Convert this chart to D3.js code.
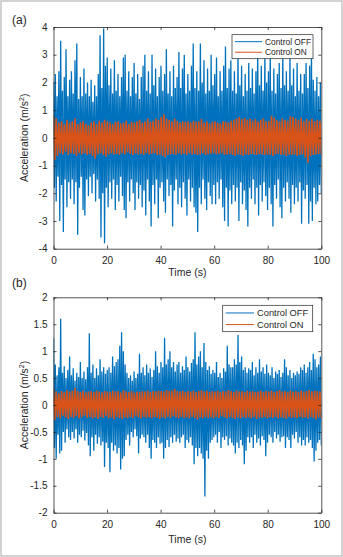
<!DOCTYPE html>
<html>
<head>
<meta charset="utf-8">
<script src="https://cdn.jsdelivr.net/npm/d3@7"></script>
<style>
body { margin: 0; background: #fff; }
text { font-family: "Liberation Sans", Arial, sans-serif; fill: #262626; }
</style>
</head>
<body>
<svg id="fig" width="343" height="557"></svg>
<script>
// ---- data (peak values, time runs 0..100 s) ----
var xTicks = [0, 20, 40, 60, 80, 100];
var yTicksA = [-4, -3, -2, -1, 0, 1, 2, 3, 4];
var yTicksB = [-2, -1.5, -1, -0.5, 0, 0.5, 1, 1.5, 2];
var seriesNames = ["Control OFF", "Control ON"];

// (a) control off: positive and negative peaks
var offA_hi = [2.0,2.3,1.5,2.4,3.5,1.7,2.2,3.2,1.5,2.1, 2.4,1.6,2.8,3.4,1.4,2.2,1.5,2.5,1.6,2.0,
  1.5,2.1,1.3,1.9,1.5,2.3,3.7,1.8,3.95,2.6, 2.9,1.9,2.5,1.6,2.8,1.7,2.3,1.5,2.2,2.9,
  3.0,1.7,2.4,1.5,2.2,2.7,1.6,2.3,1.4,2.2, 2.6,3.0,1.7,2.4,1.6,3.0,1.9,2.5,1.5,2.2,
  2.6,1.7,2.3,3.2,1.6,2.4,1.5,2.6,1.8,2.2, 3.1,1.8,2.5,3.0,1.6,2.3,1.7,2.6,3.4,1.8,
  2.4,1.7,3.4,2.0,2.8,1.6,2.5,1.7,3.0,1.9, 2.3,2.9,1.5,2.4,1.7,2.6,3.3,1.8,2.5,2.8,
  1.7,2.4,1.6,3.1,1.9,2.6,1.5,2.3,1.7,2.7, 1.8,2.5,1.6,2.4,3.3,1.9,2.6,1.7,3.0,2.0,
  2.4,3.1,1.7,2.5,1.6,2.3,2.7,1.8,3.1,1.9, 2.4,1.7,3.0,1.9,2.5,1.5,2.7,1.7,2.3,1.6,
  2.3,2.7,1.8,2.6,3.1,2.1,1.7,2.2,1.5,2.0];
var offA_lo = [-1.8,-2.3,-1.4,-3.0,-1.7,-3.4,-1.5,-2.5,-1.6,-2.2, -1.5,-2.4,-1.6,-3.5,-1.8,-1.4,-2.6,-2.8,-1.5,-2.1,
  -1.4,-2.0,-1.3,-2.3,-1.5,-2.2,-3.6,-2.0,-3.8,-1.8, -2.5,-1.6,-2.2,-1.5,-2.6,-1.7,-2.3,-1.4,-2.1,-2.6,
  -2.9,-1.6,-2.3,-1.5,-2.0,-2.6,-1.6,-2.2,-1.7,-2.5, -1.9,-2.8,-1.5,-2.3,-3.2,-1.7,-2.4,-1.5,-2.9,-1.8,
  -1.6,-2.3,-2.7,-1.5,-2.1,-1.7,-3.2,-1.9,-1.5,-2.4, -1.8,-2.5,-1.6,-2.2,-2.8,-1.5,-2.3,-1.8,-2.5,-2.7,
  -3.4,-1.8,-2.4,-1.5,-2.2,-2.6,-1.6,-2.1,-2.4,-1.7, -2.4,-1.6,-2.2,-1.5,-2.5,-3.0,-1.8,-3.2,-1.9,-2.4,
  -1.7,-2.3,-1.8,-3.0,-1.6,-2.4,-1.9,-2.6,-3.2,-1.8, -2.2,-1.5,-2.4,-1.8,-2.8,-1.7,-2.3,-1.6,-2.1,-2.6,
  -1.8,-2.4,-3.2,-1.7,-2.2,-1.5,-2.5,-2.9,-1.8,-2.3, -1.6,-2.2,-2.7,-1.7,-2.4,-1.8,-2.3,-1.6,-3.1,-1.9,
  -2.2,-1.7,-3.1,-2.3,-3.0,-1.8,-2.4,-2.3,-1.7,-2.0];

// (a) control on
var onA_hi = [0.8,0.7,0.55,0.6,0.5,0.65,0.55,0.6,0.7,0.5, 0.55,0.6,0.5,0.45,0.55,0.6,0.5,0.62,0.55,0.65,
  0.6,0.55,0.5,0.58,0.6,0.52,0.55,0.62,0.5,0.58, 0.55,0.6,0.65,0.55,0.6,0.7,0.58,0.62,0.7,0.65,
  0.75,0.85,0.7,0.65,0.6,0.7,0.62,0.55,0.6,0.58, 0.6,0.55,0.62,0.58,0.6,0.68,0.55,0.6,0.52,0.58,
  0.6,0.55,0.52,0.6,0.58,0.55,0.62,0.65,0.7,0.75, 0.68,0.72,0.65,0.7,0.62,0.68,0.6,0.65,0.7,0.6,
  0.62,0.8,0.72,0.65,0.6,0.7,0.65,0.62,0.78,0.75, 0.7,0.65,0.72,0.6,0.68,0.62,0.7,0.6,0.65,0.62];
var onA_lo = [-0.8,-0.65,-0.55,-0.6,-0.5,-0.62,-0.55,-0.58,-0.65,-0.55, -0.6,-0.55,-0.62,-0.58,-0.65,-0.75,-0.6,-0.55,-0.62,-0.68,
  -0.6,-0.55,-0.6,-0.58,-0.62,-0.55,-0.6,-0.52,-0.58,-0.62, -0.55,-0.6,-0.58,-0.62,-0.55,-0.6,-0.58,-0.55,-0.62,-0.6,
  -0.65,-0.7,-0.62,-0.6,-0.58,-0.62,-0.55,-0.6,-0.58,-0.62, -0.55,-0.6,-0.58,-0.62,-0.6,-0.55,-0.62,-0.6,-0.58,-0.55,
  -0.6,-0.58,-0.55,-0.62,-0.6,-0.58,-0.62,-0.65,-0.6,-0.62, -0.65,-0.6,-0.62,-0.58,-0.6,-0.62,-0.58,-0.6,-0.62,-0.6,
  -0.62,-0.65,-0.6,-0.58,-0.62,-0.6,-0.65,-0.6,-0.62,-0.6, -0.65,-0.62,-0.6,-0.7,-0.9,-0.65,-0.62,-0.6,-0.58,-0.6];

// (b) control off
var offB_hi = [1.24,0.75,0.55,0.7,1.6,0.6,0.72,0.5,0.65,0.9, 0.55,0.68,0.45,0.6,0.52,0.8,0.5,0.62,0.48,0.7,
  1.33,0.6,0.75,0.5,0.68,0.55,0.85,0.62,0.7,0.58, 0.65,0.7,0.6,0.9,0.72,0.8,0.85,1.1,1.35,1.0,
  0.75,0.6,0.5,0.55,0.45,0.62,0.5,0.58,0.95,0.6, 0.7,0.55,0.75,0.6,0.68,0.52,0.65,1.0,0.72,0.6,
  0.8,0.7,1.25,0.75,0.85,1.0,0.7,0.8,0.62,0.75, 0.8,0.6,0.72,0.65,0.9,0.7,0.62,0.78,0.85,1.35,
  0.75,0.9,1.0,0.7,1.15,0.8,0.65,0.72,0.58,0.65, 0.6,0.8,0.52,0.6,0.5,0.68,0.62,1.1,0.75,0.7,
  0.7,0.85,0.75,1.3,0.8,0.9,0.65,0.7,0.6,0.68, 0.65,0.8,0.55,0.7,0.6,0.85,0.62,0.7,0.58,0.75,
  0.6,0.55,0.7,0.5,0.62,0.58,0.65,0.52,0.6,0.85, 0.7,0.55,0.65,0.5,0.6,0.55,0.62,0.58,0.7,0.65,
  0.75,0.6,0.7,0.8,0.65,0.95,0.85,0.7,0.75,0.9];
var offB_lo = [-0.8,-1.0,-0.55,-0.9,-0.85,-0.5,-0.7,-0.45,-0.6,-0.65, -0.5,-0.62,-0.45,-0.7,-0.55,-0.6,-0.48,-0.66,-0.52,-0.75,
  -0.95,-0.6,-0.85,-0.55,-0.72,-0.6,-0.75,-0.68,-1.15,-0.7, -0.8,-1.25,-0.7,-0.85,-0.75,-0.9,-0.8,-1.2,-1.0,-0.95,
  -0.65,-0.55,-0.75,-0.5,-0.6,-0.45,-0.58,-0.9,-0.62,-0.55, -0.6,-0.7,-0.55,-0.8,-1.0,-0.65,-0.7,-0.8,-0.6,-0.72,
  -0.7,-1.0,-0.8,-0.65,-0.78,-0.6,-0.7,-0.55,-0.68,-0.62, -0.7,-0.6,-0.55,-0.8,-0.65,-0.7,-0.6,-0.75,-1.1,-0.8,
  -0.95,-0.8,-0.9,-1.0,-1.7,-0.85,-1.0,-0.7,-0.65,-0.6, -0.55,-0.7,-0.5,-0.8,-0.6,-0.65,-0.58,-0.75,-0.62,-0.7,
  -0.75,-0.9,-0.7,-0.8,-0.65,-0.75,-1.1,-0.85,-0.6,-0.7, -0.6,-0.8,-0.55,-0.7,-0.62,-0.75,-0.58,-0.65,-0.95,-0.7,
  -0.55,-0.6,-0.7,-0.5,-0.62,-0.55,-0.68,-0.6,-0.58,-0.8, -0.6,-0.65,-0.8,-0.55,-0.62,-0.5,-0.7,-0.6,-0.75,-0.65,
  -0.75,-0.6,-0.7,-0.65,-0.8,-1.05,-0.85,-0.7,-0.65,-0.75];

// (b) control on
var onB_hi = [0.3,0.25,0.22,0.26,0.24,0.28,0.25,0.27,0.32,0.26, 0.24,0.27,0.23,0.25,0.26,0.24,0.27,0.25,0.23,0.26,
  0.25,0.24,0.27,0.25,0.26,0.23,0.28,0.25,0.24,0.26, 0.23,0.25,0.24,0.26,0.25,0.27,0.24,0.26,0.25,0.27,
  0.26,0.25,0.28,0.26,0.27,0.3,0.26,0.25,0.27,0.24, 0.26,0.25,0.27,0.24,0.26,0.28,0.25,0.27,0.24,0.26,
  0.25,0.27,0.24,0.26,0.25,0.28,0.26,0.24,0.27,0.25, 0.26,0.24,0.27,0.25,0.26,0.24,0.25,0.27,0.24,0.26,
  0.25,0.27,0.24,0.26,0.28,0.25,0.26,0.24,0.27,0.25, 0.26,0.24,0.27,0.25,0.26,0.28,0.25,0.27,0.26,0.25];
var onB_lo = [-0.28,-0.22,-0.25,-0.2,-0.23,-0.26,-0.22,-0.24,-0.21,-0.25, -0.23,-0.2,-0.24,-0.22,-0.25,-0.23,-0.26,-0.22,-0.24,-0.21,
  -0.25,-0.23,-0.27,-0.22,-0.24,-0.26,-0.23,-0.25,-0.22,-0.24, -0.21,-0.23,-0.25,-0.22,-0.24,-0.23,-0.25,-0.22,-0.24,-0.26,
  -0.23,-0.25,-0.22,-0.24,-0.21,-0.23,-0.25,-0.22,-0.24,-0.23, -0.25,-0.22,-0.24,-0.27,-0.23,-0.25,-0.22,-0.24,-0.23,-0.25,
  -0.22,-0.24,-0.21,-0.23,-0.25,-0.22,-0.24,-0.26,-0.23,-0.25, -0.22,-0.24,-0.23,-0.25,-0.22,-0.26,-0.23,-0.24,-0.22,-0.25,
  -0.23,-0.24,-0.22,-0.25,-0.23,-0.24,-0.26,-0.22,-0.24,-0.23, -0.25,-0.22,-0.24,-0.23,-0.25,-0.22,-0.24,-0.27,-0.23,-0.24];

var colors = ["#0072BD", "#D95319"];
var axisColor = "#262626";

var svg = d3.select("#fig");

// outer frame of the figure
svg.append("rect")
  .attr("x", 1).attr("y", 1)
  .attr("width", 341).attr("height", 555)
  .attr("fill", "#fff")
  .attr("stroke", "#c4c4c4")
  .attr("stroke-width", 1.5);

// peaks -> one zigzag trace (alternating high/low samples)
function zigzag(hi, lo) {
  var pts = [];
  hi.forEach(function(v, i) {
    pts.push(v);
    pts.push(lo[i]);
  });
  var step = 100 / (pts.length - 1);
  return pts.map(function(v, k) { return [k * step, v]; });
}

function drawPanel(p) {
  var x = d3.scaleLinear().domain([0, 100]).range([p.left, p.right]);
  var y = d3.scaleLinear().domain(p.yDomain).range([p.bottom, p.top]);
  var g = svg.append("g");

  g.append("clipPath").attr("id", "clip" + p.id)
    .append("rect")
    .attr("x", p.left).attr("y", p.top)
    .attr("width", p.right - p.left).attr("height", p.bottom - p.top);

  var line = d3.line()
    .x(function(d) { return x(d[0]); })
    .y(function(d) { return y(d[1]); });

  var plot = g.append("g").attr("clip-path", "url(#clip" + p.id + ")");
  p.series.forEach(function(s, i) {
    plot.append("path")
      .datum(zigzag(s.hi, s.lo))
      .attr("d", line)
      .attr("fill", "none")
      .attr("stroke", colors[i])
      .attr("stroke-width", i == 0 ? 1.3 : 1.6)
      .attr("stroke-linejoin", "bevel");
  });

  var fmt = function(d) { return String(d); };

  // axes, ticks inward on all four sides (box on)
  var bottom = g.append("g").attr("transform", "translate(0," + p.bottom + ")")
    .call(d3.axisBottom(x).tickValues(xTicks).tickFormat(fmt).tickSizeInner(-3).tickSizeOuter(0).tickPadding(8));
  var top = g.append("g").attr("transform", "translate(0," + p.top + ")")
    .call(d3.axisTop(x).tickValues(xTicks).tickFormat("").tickSizeInner(-3).tickSizeOuter(0));
  var left = g.append("g").attr("transform", "translate(" + p.left + ",0)")
    .call(d3.axisLeft(y).tickValues(p.yTicks).tickFormat(fmt).tickSizeInner(-3).tickSizeOuter(0).tickPadding(6));
  var right = g.append("g").attr("transform", "translate(" + p.right + ",0)")
    .call(d3.axisRight(y).tickValues(p.yTicks).tickFormat("").tickSizeInner(-3).tickSizeOuter(0));

  [bottom, top, left, right].forEach(function(a) {
    a.selectAll("path.domain").attr("stroke", axisColor).attr("stroke-width", 0.8);
    a.selectAll(".tick line").attr("stroke", axisColor).attr("stroke-width", 0.8);
    a.selectAll("text").attr("font-size", 10).attr("font-family", null).attr("fill", axisColor);
  });

  // axis titles
  g.append("text")
    .attr("x", (p.left + p.right) / 2).attr("y", p.xTitleY)
    .attr("text-anchor", "middle").attr("font-size", 10.5)
    .text("Time (s)");

  var yt = g.append("text")
    .attr("transform", "translate(28," + ((p.top + p.bottom) / 2) + ") rotate(-90)")
    .attr("text-anchor", "middle").attr("font-size", 10.5);
  yt.append("tspan").text("Acceleration (m/s");
  yt.append("tspan").attr("font-size", 7).attr("dy", -4).text("2");
  yt.append("tspan").attr("dy", 4).text(")");

  g.append("text")
    .attr("x", 12).attr("y", p.tagY)
    .attr("font-size", 12)
    .text(p.tag);

  // legend
  var L = p.legend;
  var lg = g.append("g");
  lg.append("rect")
    .attr("x", L.x).attr("y", L.y).attr("width", L.w).attr("height", L.h)
    .attr("fill", "#fff").attr("stroke", axisColor).attr("stroke-width", 0.7);
  seriesNames.forEach(function(name, i) {
    var cy = L.y + L.h * (i == 0 ? 0.29 : 0.73);
    lg.append("line")
      .attr("x1", L.x + 3).attr("x2", L.x + 3 + L.lineLen)
      .attr("y1", cy).attr("y2", cy)
      .attr("stroke", colors[i]).attr("stroke-width", 1);
    lg.append("text")
      .attr("x", L.x + L.lineLen + 6).attr("y", cy + L.fs * 0.36)
      .attr("font-size", L.fs)
      .text(name);
  });
}

drawPanel({
  id: "a", tag: "(a)", tagY: 23.5,
  left: 53.5, right: 321.3, top: 27, bottom: 248.7,
  yDomain: [-4, 4], yTicks: yTicksA, xTitleY: 276,
  series: [{hi: offA_hi, lo: offA_lo}, {hi: onA_hi, lo: onA_lo}],
  legend: {x: 232, y: 34.7, w: 81, h: 24, lineLen: 27, fs: 8.4}
});

drawPanel({
  id: "b", tag: "(b)", tagY: 287,
  left: 53.5, right: 321.3, top: 297.3, bottom: 512.7,
  yDomain: [-2, 2], yTicks: yTicksB, xTitleY: 543,
  series: [{hi: offB_hi, lo: offB_lo}, {hi: onB_hi, lo: onB_lo}],
  legend: {x: 222.7, y: 305.3, w: 90, h: 26.4, lineLen: 28.3, fs: 9.3}
});
</script>
</body>
</html>
